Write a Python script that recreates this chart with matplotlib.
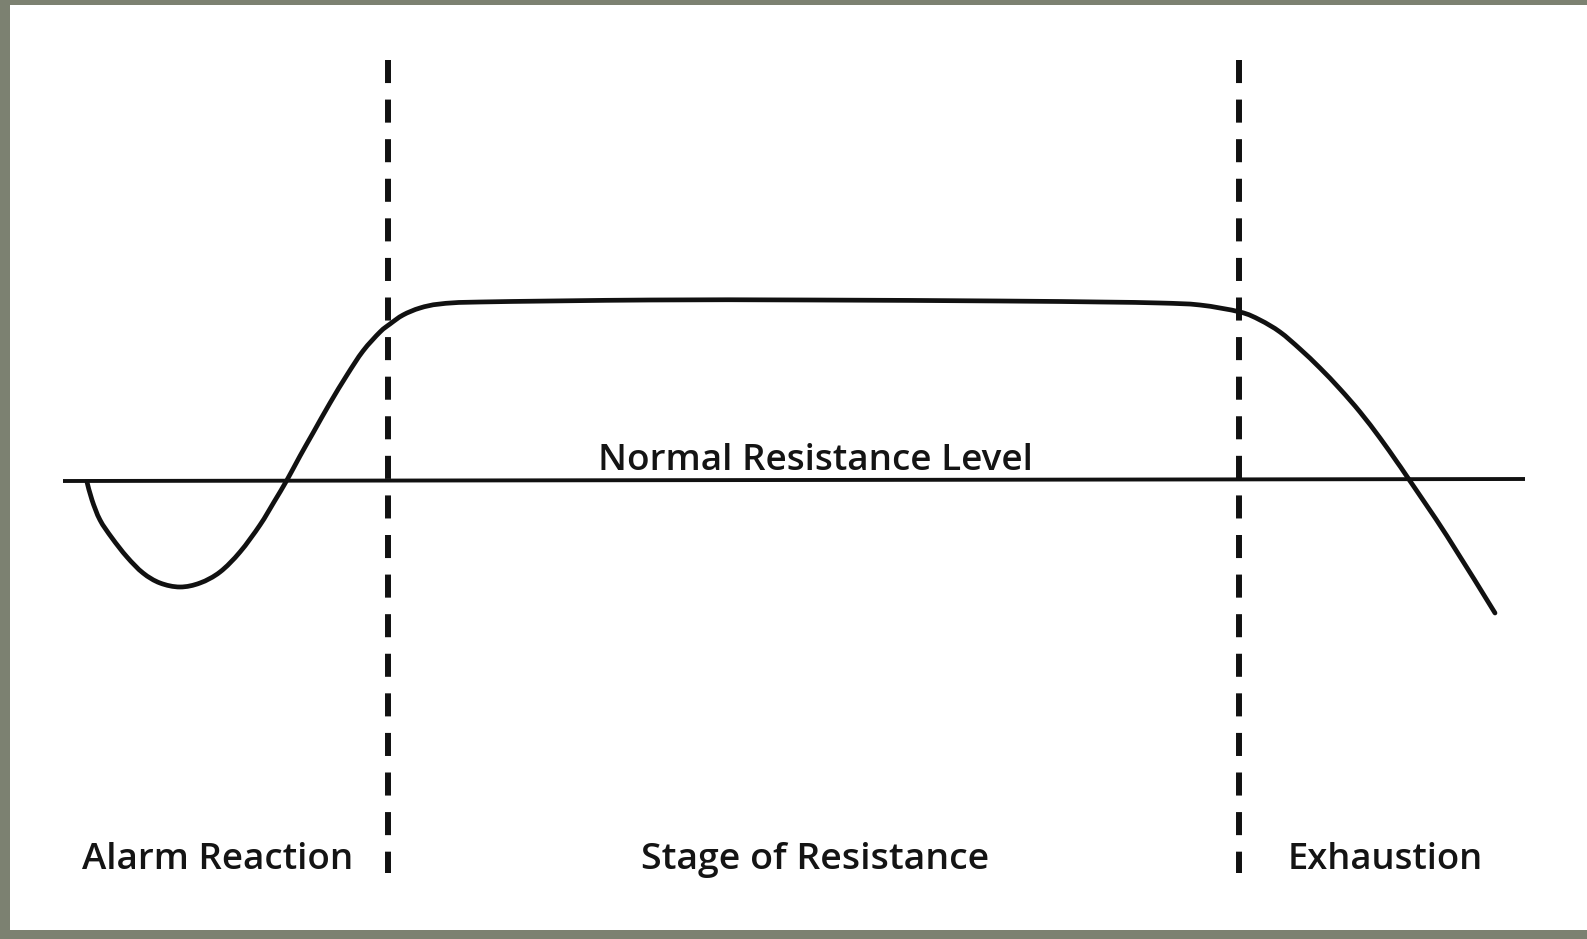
import matplotlib
matplotlib.use("Agg")
import numpy as np
import matplotlib.pyplot as plt
from matplotlib.patches import Rectangle, PathPatch
from matplotlib.path import Path

# ---- data (chart units: x = time, y = resistance relative to normal level) ----
curve_x = [87, 92, 100, 112, 127, 143, 160, 180, 200, 220, 240, 260, 274, 287,
           300, 313, 330, 347, 363, 380, 390, 403, 420, 440, 480, 650, 810,
           1000, 1100, 1160, 1200, 1240, 1260, 1280, 1300, 1320, 1340, 1360, 1380,
           1397, 1408, 1447, 1495]
curve_y = [-2, -20, -40, -58, -77, -93, -103, -107, -103, -92, -72, -45, -22, 0,
           24, 47, 77, 105, 129, 148, 156, 165, 172, 176, 178, 180, 180,
           179, 178, 177, 175, 168, 160, 148, 131, 112, 91, 68, 42,
           18, 2, -56, -133]

normal_x = [63, 1525]
normal_y = [-1, 1]
normal_label = "Normal Resistance Level"

stage_bounds = [388, 1239]
stage_line_top = 420
stage_line_bottom = -393

stage_labels = ["Alarm Reaction", "Stage of Resistance", "Exhaustion"]
stage_label_left = [82, 641, 1288]
stage_label_right = [353, 989, 1483]
stage_label_y = -389

W, H = 1587, 939
fig = plt.figure(figsize=(W / 100, H / 100), dpi=100, facecolor="#7c8171")
ax = fig.add_axes([0, 0, 1, 1])
ax.set_xlim(0, W)
ax.set_ylim(480 - H, 480)
ax.axis("off")

# white panel
ax.add_patch(Rectangle((10, 480 - 930), W - 10, 925, facecolor="white",
                       edgecolor="none", zorder=0))

ink = "#111111"
ax.plot(normal_x, normal_y, color=ink, lw=2.8, solid_capstyle="butt", zorder=2)
for xb in stage_bounds:
    lw = 4.3
    ax.plot([xb, xb], [stage_line_top, stage_line_bottom], color=ink, lw=lw,
            linestyle=(0, (16.6 / lw, 11.9 / lw)), dash_capstyle="butt", zorder=2)

# smooth line through the data points (cubic Bezier segments)
P = np.column_stack([curve_x, curve_y]).astype(float)
verts = [P[0]]
codes = [Path.MOVETO]
n = len(P)
for i in range(n - 1):
    p0 = P[i - 1] if i > 0 else P[i]
    p1, p2 = P[i], P[i + 1]
    p3 = P[i + 2] if i + 2 < n else P[i + 1]
    verts += [p1 + (p2 - p0) / 6, p2 - (p3 - p1) / 6, p2]
    codes += [Path.CURVE4] * 3
ax.add_patch(PathPatch(Path(verts, codes), facecolor="none", edgecolor=ink,
                       lw=3.4, capstyle="round", joinstyle="round", zorder=3))

renderer = fig.canvas.get_renderer()


def fit_text(x0, x1, y, s):
    t = ax.text(x0, y, s, fontsize=26, family="Open Sans", weight="semibold",
                color="#141414", ha="left", va="baseline", zorder=4)
    w = t.get_window_extent(renderer).width
    t.set_fontsize(26 * (x1 - x0) / w)
    return t


fit_text(598, 1033, 480 - 470, normal_label)
for lab, l, r in zip(stage_labels, stage_label_left, stage_label_right):
    fit_text(l, r, stage_label_y, lab)

fig.savefig("out.png", dpi=100, facecolor=fig.get_facecolor())
